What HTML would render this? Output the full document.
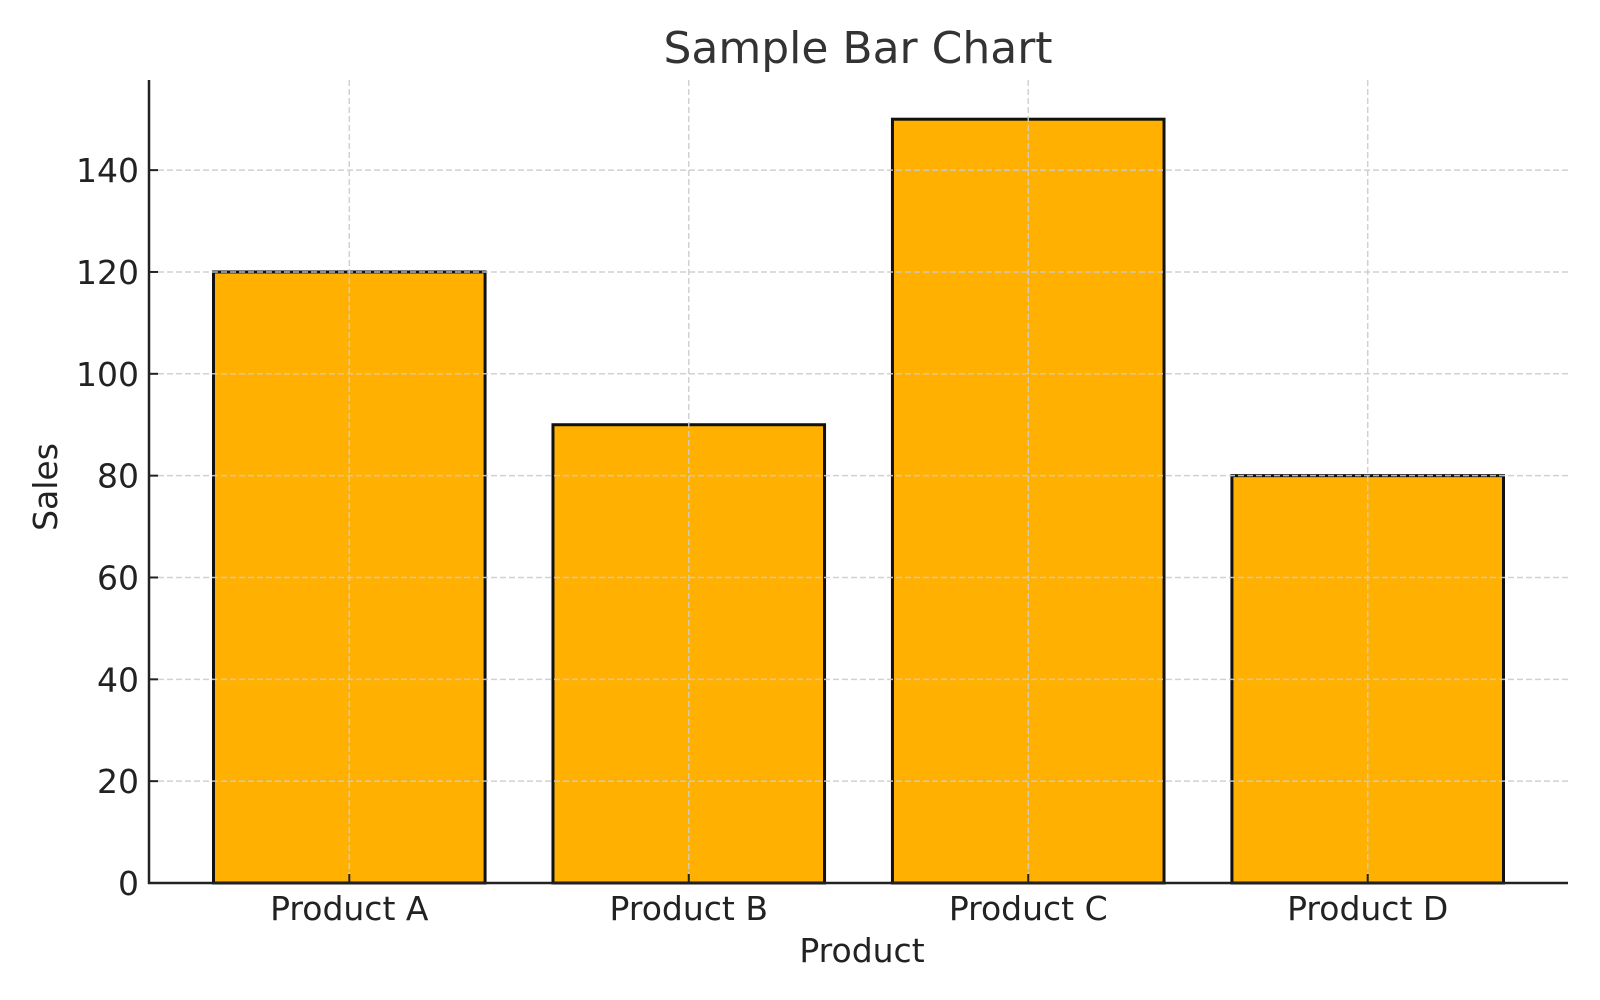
<!DOCTYPE html>
<html><head><meta charset="utf-8"><style>
html,body{margin:0;padding:0;background:#fff;}
svg{display:block;font-family:"DejaVu Sans","Liberation Sans",sans-serif;}
</style></head><body>
<svg id="chart" width="1600" height="1000" viewBox="0 0 1600 1000">
<g id="bars"></g>
<g id="grid"></g>
<g id="axes"></g>
<text x="858" y="63" text-anchor="middle" font-size="44" fill="#333">Sample Bar Chart</text>
<text x="862" y="962" text-anchor="middle" font-size="33" fill="#222">Product</text>
<text x="0" y="0" transform="translate(57,487) rotate(-90)" text-anchor="middle" font-size="33" fill="#222">Sales</text>
</svg>
<script>
const categories = ["Product A","Product B","Product C","Product D"];
const sales = [120, 90, 150, 80];
const yTicks = [0,20,40,60,80,100,120,140];

const X0=149, X1=1568, Y0=883, YT=80;
const xmin=-0.59, xmax=3.59, ymin=0, ymax=157.7;
const xs = v => X0 + (v - xmin)/(xmax - xmin)*(X1 - X0);
const ys = v => Y0 - (v - ymin)/(ymax - ymin)*(Y0 - YT);
const NS="http://www.w3.org/2000/svg";
function mk(tag, attrs, parent){const e=document.createElementNS(NS,tag);for(const k in attrs)e.setAttribute(k,attrs[k]);parent.appendChild(e);return e;}
const grid=document.getElementById('grid'), bars=document.getElementById('bars'), axes=document.getElementById('axes');

categories.forEach((c,i)=>{
  const x=xs(i-0.4), w=xs(i+0.4)-xs(i-0.4);
  const r=mk('rect',{x:x,y:ys(sales[i]),width:w,height:Y0-ys(sales[i]),fill:'#FFB000',stroke:'#111','stroke-width':3},bars);
  
  
});
yTicks.forEach(t=>{
  const l=mk('line',{x1:X0,x2:X1,y1:ys(t),y2:ys(t),stroke:'#cccccc','stroke-width':1.5,'stroke-dasharray':'6,3','stroke-opacity':0.9},grid);
  
  
});
categories.forEach((c,i)=>{
  const l=mk('line',{x1:xs(i),x2:xs(i),y1:YT,y2:Y0,stroke:'#cccccc','stroke-width':1.5,'stroke-dasharray':'6,3','stroke-opacity':0.9},grid);
  
  
});
const ly=mk('line',{x1:X0,x2:X0,y1:YT,y2:Y0+1,stroke:'#222','stroke-width':2.5},axes);


const lx=mk('line',{x1:X0-1,x2:X1,y1:Y0,y2:Y0,stroke:'#222','stroke-width':2.5},axes);


yTicks.forEach(t=>{
  const tk=mk('line',{x1:X0,x2:X0+9,y1:ys(t),y2:ys(t),stroke:'#222','stroke-width':2},axes);
  
  
  const tx=mk('text',{x:X0-10,y:ys(t)+12,'text-anchor':'end','font-size':33,fill:'#222'},axes);
  tx.textContent=t;
  
  
});
categories.forEach((c,i)=>{
  const tk=mk('line',{x1:xs(i),x2:xs(i),y1:Y0,y2:Y0-9,stroke:'#222','stroke-width':2},axes);
  
  
  const tx=mk('text',{x:xs(i),y:920,'text-anchor':'middle','font-size':33,fill:'#222'},axes);
  tx.textContent=c;
  
  
});
</script>
</body></html>
